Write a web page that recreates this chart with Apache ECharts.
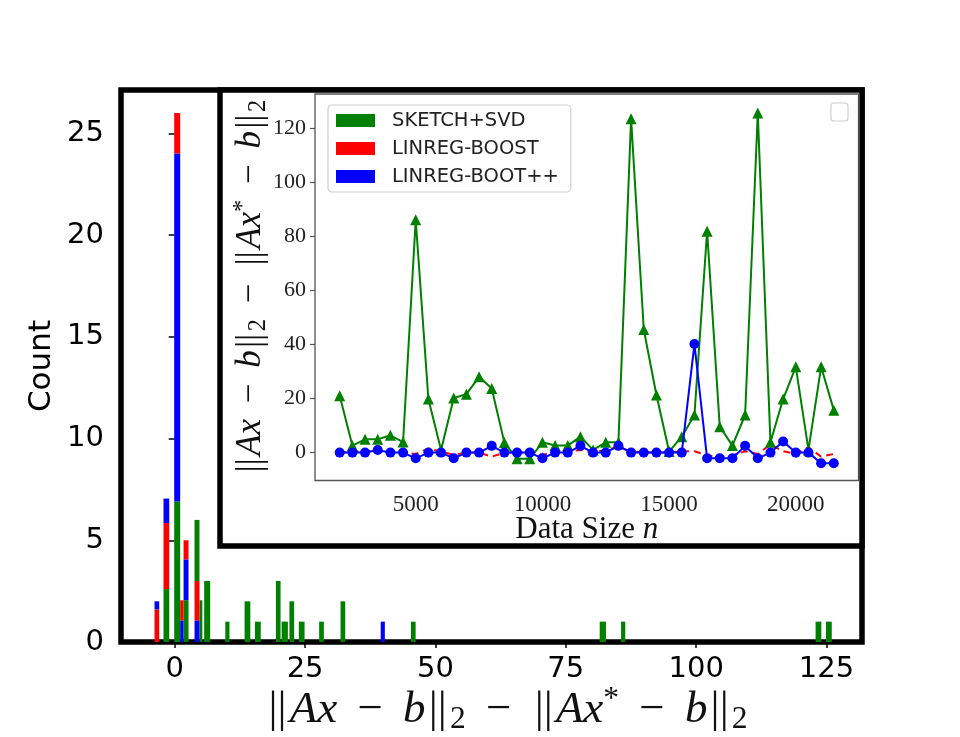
<!DOCTYPE html>
<html>
<head>
<meta charset="utf-8">
<script src="https://cdn.jsdelivr.net/npm/echarts@6/dist/echarts.min.js"></script>
<style>
html, body { margin: 0; background: #fff; }
#main { width: 960px; height: 737px; }
</style>
</head>
<body>
<div id="main"></div>
<script>
// histogram pieces, one row per coloured block: [left edge, right edge, bottom, top]
var histGreen = [[-2.15,-1.05,0,2.6],[-0.1,1.05,0,6.9],[1.7,2.65,0,2.05],[3.8,4.75,3.0,6.0],[4.75,5.3,0,2.05],
  [5.65,6.8,0,3.0],[9.7,10.5,0,1],[13.4,14.5,0,2],[15.4,16.5,0,1],[19.4,20.3,0,3],[20.5,21.7,0,1],
  [22.0,22.9,0,2],[23.8,24.9,0,1],[27.7,28.6,0,1],[31.8,32.7,0,2],[45.3,46.2,0,1],[81.5,82.7,0,1],
  [85.6,86.4,0,1],[122.9,124.0,0,1],[124.9,126.0,0,1]];
var histRed = [[-3.87,-2.97,0,1.6],[-2.15,-1.05,2.6,5.85],[-0.1,1.05,24,26],[1.05,1.7,1.05,2.05],
  [1.7,2.65,4.05,5.0],[3.8,4.75,1.05,3.0]];
var histBlue = [[-3.87,-2.97,1.6,2.0],[-2.15,-1.05,5.85,7.05],[-0.1,1.05,6.9,24],[1.05,1.7,0,1.05],
  [1.7,2.65,2.05,4.05],[3.8,4.75,0,1.05],[39.5,40.3,0,1]];
var histXTicks = [0, 25, 50, 75, 100, 125];
var histYTicks = [0, 5, 10, 15, 20, 25];

// inset: error vs data size
var dataSize = [2000,2500,3000,3500,4000,4500,5000,5500,6000,6500,7000,7500,8000,8500,9000,9500,
  10000,10500,11000,11500,12000,12500,13000,13500,14000,14500,15000,15500,16000,16500,17000,17500,
  18000,18500,19000,19500,20000,20500,21000,21500];
var sketchSvd = [21.0,2.6,4.9,4.9,6.4,3.9,86.0,19.8,1.0,20.2,21.6,28.0,23.7,3.7,-2.3,-2.3,
  3.8,2.6,2.6,5.9,1.0,3.8,3.8,123.4,45.5,21.3,0.4,5.9,13.9,81.8,9.6,2.6,
  13.9,125.5,3.8,19.8,31.7,1.0,31.7,15.7];
var linregBoost = [0,0.3,0.5,0.5,0,0,-0.5,1.5,0.3,-0.8,0,0,-1.5,0,0,0,
  -0.8,0,0.3,1.0,0,1.0,2.0,0.5,0,0,0,0.5,0.5,-1.0,-1.5,-1.0,
  0.5,-0.5,3.0,0.5,-0.5,2.0,-1.5,-0.5];
var linregBootPP = [0,0,0,1.0,0,0,-2.1,0,0,-2.1,0,0,2.5,0,0,0,
  -2.1,0,0,2.5,0,0,2.5,0,0,0,0,0,40.1,-2.1,-2.1,-2.1,
  2.5,-2.1,0,4.1,0,0,-3.9,-3.9];
var insetXTicks = [5000, 10000, 15000, 20000];
var insetYTicks = [0, 20, 40, 60, 80, 100, 120];

var GREEN = '#008000', RED = '#ff0000', BLUE = '#0000ff';
var SERIF = 'Liberation Serif';

function formulaRich(size) {
  var base = {fontFamily: SERIF, fontSize: size, lineHeight: size * 1.15, color: '#111'};
  return {
    r: base,
    i: Object.assign({}, base, {fontStyle: 'italic'}),
    bar: Object.assign({}, base, {padding: [0, size * 0.07, 0, size * 0.07]}),
    op: Object.assign({}, base, {padding: [0, size * 0.2, 0, size * 0.2]}),
    sub: {fontFamily: SERIF, fontSize: size * 0.7, lineHeight: size * 0.5, verticalAlign: 'bottom', color: '#111'},
    sup: {fontFamily: SERIF, fontSize: size * 0.7, lineHeight: size * 0.5, verticalAlign: 'top', color: '#111'}
  };
}
var formula = '{bar|||}{i|Ax}{op| − }{i|b}{bar|||}{sub|2}{op| − }{bar|||}{i|Ax}{sup|*}{op| − }{i|b}{bar|||}{sub|2}';

function histPiece(color) {
  return function (params, api) {
    var a = api.coord([api.value(0), api.value(2)]);
    var b = api.coord([api.value(1), api.value(3)]);
    return {
      type: 'rect',
      shape: {x: a[0], y: b[1], width: b[0] - a[0], height: a[1] - b[1]},
      style: {fill: color}
    };
  };
}
function histSeries(data, color) {
  return {
    type: 'custom', xAxisIndex: 0, yAxisIndex: 0, z: 2, silent: true,
    renderItem: histPiece(color), encode: {x: [0, 1], y: [2, 3]}, data: data
  };
}
function pairs(ys) {
  return dataSize.map(function (n, i) { return [n, ys[i]]; });
}

var chart = echarts.init(document.getElementById('main'), null, {renderer: 'canvas'});
chart.setOption({
  animation: false,
  backgroundColor: '#fff',
  grid: [
    {left: 121, right: 98, top: 90, bottom: 95, show: true, borderColor: '#000', borderWidth: 5.5,
     z: 0, outerBoundsMode: 'none'},
    {left: 315, right: 101.5, top: 94, bottom: 256.5, show: true, borderColor: '#555', borderWidth: 1.3,
     backgroundColor: '#fff', z: 6, outerBoundsMode: 'none'}
  ],
  xAxis: [
    {type: 'value', gridIndex: 0, min: -10.3, max: 131.8, z: 0,
     axisLine: {show: false}, splitLine: {show: false},
     axisTick: {show: true, length: 6, lineStyle: {color: '#000', width: 1.5}, customValues: histXTicks},
     axisLabel: {customValues: histXTicks, margin: 13, fontFamily: 'DejaVu Sans', fontSize: 29, color: '#000'},
     name: formula, nameLocation: 'middle', nameGap: 42, nameMoveOverlap: false,
     nameTextStyle: {rich: formulaRich(45), padding: [0, 0, 0, 30]}},
    {type: 'value', gridIndex: 1, min: 1025, max: 22475, z: 6,
     axisLine: {show: false}, splitLine: {show: false},
     axisTick: {show: true, length: 5, lineStyle: {color: '#555', width: 1.2}, customValues: insetXTicks},
     axisLabel: {customValues: insetXTicks, margin: 13, fontFamily: SERIF, fontSize: 23, color: '#222',
       formatter: function (v) { return String(v); }},
     name: '{a|Data Size }{b|n}', nameLocation: 'middle', nameGap: 32, nameMoveOverlap: false,
     nameTextStyle: {rich: {
       a: {fontFamily: SERIF, fontSize: 31, lineHeight: 34, color: '#111'},
       b: {fontFamily: SERIF, fontSize: 31, lineHeight: 34, fontStyle: 'italic', color: '#111'}}}}
  ],
  yAxis: [
    {type: 'value', gridIndex: 0, min: 0, max: 27.13, z: 0,
     axisLine: {show: false}, splitLine: {show: false},
     axisTick: {show: true, length: 6, lineStyle: {color: '#000', width: 1.5}, customValues: histYTicks},
     axisLabel: {customValues: histYTicks, margin: 17, fontFamily: 'DejaVu Sans', fontSize: 29, color: '#000'},
     name: 'Count', nameLocation: 'middle', nameGap: 64, nameMoveOverlap: false,
     nameTextStyle: {fontFamily: 'DejaVu Sans', fontSize: 31, color: '#000'}},
    {type: 'value', gridIndex: 1, min: -10.3, max: 132.5, z: 6,
     axisLine: {show: false}, splitLine: {show: false},
     axisTick: {show: true, length: 5, lineStyle: {color: '#555', width: 1.2}, customValues: insetYTicks},
     axisLabel: {customValues: insetYTicks, margin: 9, fontFamily: SERIF, fontSize: 22, color: '#222'},
     name: formula, nameLocation: 'middle', nameGap: 44, nameMoveOverlap: false,
     nameTextStyle: {rich: formulaRich(35)}}
  ],
  legend: {
    data: ['SKETCH+SVD', 'LINREG-BOOST', 'LINREG-BOOT++'],
    orient: 'vertical', left: 328, top: 105, z: 10,
    icon: 'rect', itemWidth: 39, itemHeight: 13, itemGap: 7,
    textStyle: {fontFamily: 'DejaVu Sans', fontSize: 19.5, lineHeight: 21, color: '#222', padding: [0, 0, 0, 12]},
    backgroundColor: 'rgba(255,255,255,0.85)', borderColor: '#d0d0d0', borderWidth: 1.2, borderRadius: 4,
    padding: [5, 12, 5, 8]
  },
  graphic: [
    {type: 'rect', z: 5, silent: true,
     shape: {x: 220, y: 90, width: 642, height: 456},
     style: {fill: '#fff', stroke: '#000', lineWidth: 5.5}},
    {type: 'rect', z: 9, silent: true,
     shape: {x: 831, y: 103, width: 17, height: 18, r: 3},
     style: {fill: '#fff', stroke: '#d0d0d0', lineWidth: 1.2}}
  ],
  series: [
    histSeries(histGreen, GREEN),
    histSeries(histRed, RED),
    histSeries(histBlue, BLUE),
    {name: 'SKETCH+SVD', type: 'line', xAxisIndex: 1, yAxisIndex: 1, z: 7,
     data: pairs(sketchSvd), symbol: 'triangle', symbolSize: 11, showAllSymbol: true,
     lineStyle: {color: GREEN, width: 2}, itemStyle: {color: GREEN}},
    {name: 'LINREG-BOOST', type: 'line', xAxisIndex: 1, yAxisIndex: 1, z: 7,
     data: pairs(linregBoost), symbol: 'none',
     lineStyle: {color: RED, width: 2, type: [7, 5]}, itemStyle: {color: RED}},
    {name: 'LINREG-BOOT++', type: 'line', xAxisIndex: 1, yAxisIndex: 1, z: 8,
     data: pairs(linregBootPP), symbol: 'circle', symbolSize: 10, showAllSymbol: true,
     lineStyle: {color: BLUE, width: 2}, itemStyle: {color: BLUE}}
  ]
});
</script>
</body>
</html>
